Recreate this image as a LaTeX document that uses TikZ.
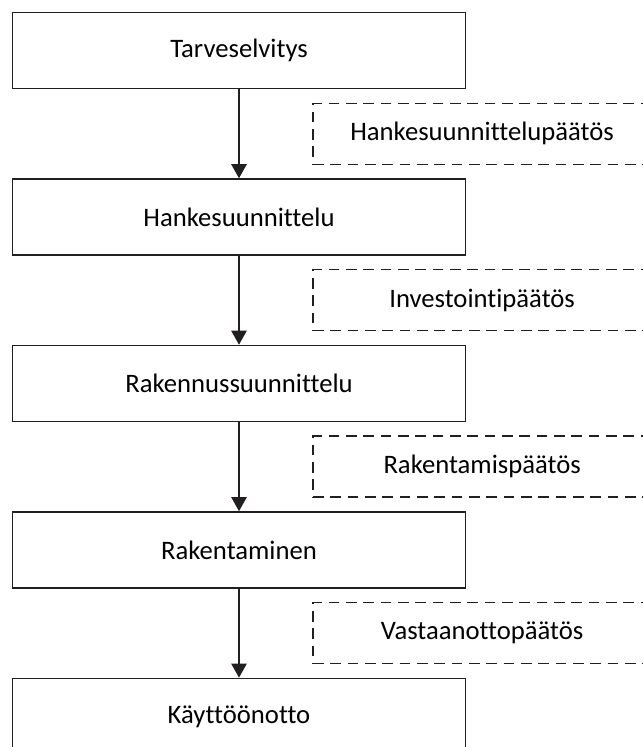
\documentclass[tikz,border=0pt]{standalone}
\usepackage{fontspec}
\setmainfont[Ligatures={NoCommon}]{Carlito}
\usepackage{tikz}
\usetikzlibrary{positioning,arrows.meta,calc}
\definecolor{pline}{RGB}{35,31,32}
\tikzset{
  stagebox/.style={draw=pline, line width=1.1pt, fill=white,
                   minimum width=340pt, minimum height=57pt, inner sep=0pt,
                   font=\fontsize{20}{24}\selectfont, text=black},
  decision/.style={draw=pline, line width=1.1pt, dash pattern=on 8pt off 5pt,
                   minimum width=253.5pt, minimum height=45.75pt, inner sep=0pt,
                   font=\fontsize{20}{24}\selectfont, text=black},
  flow/.style={-{Triangle[length=10.5pt,width=11.5pt]}, draw=pline, line width=1.1pt},
}
\begin{document}
\begin{tikzpicture}[x=0.75pt, y=-0.75pt, node distance=66.75pt]
\useasboundingbox (0,0) rectangle (643,747);
\clip (0,0) rectangle (643,747);

% project phases, top to bottom
\node[stagebox] (tarve) at (239,50.5) {Tarveselvitys};
\node[stagebox, below=of tarve] (hanke) {Hankesuunnittelu};
\node[stagebox, below=of hanke] (rasu) {Rakennussuunnittelu};
\node[stagebox, below=of rasu] (raken) {Rakentaminen};
\node[stagebox, below=of raken] (kaytto) {Käyttöönotto};

% phase flow
\foreach \a/\b in {tarve/hanke, hanke/rasu, rasu/raken, raken/kaytto}
  \draw[flow] (\a) -- (\b);

% decisions between phases, dashed, running off the right edge
\foreach \a/\b/\t in {tarve/hanke/Hankesuunnittelupäätös,
                      hanke/rasu/Investointipäätös,
                      rasu/raken/Rakentamispäätös,
                      raken/kaytto/Vastaanottopäätös}
  \node[decision, anchor=west] (pd-\a)
    at ($(\a.south east)!0.5!(\b.north east)+(-154,0)$) {\t};
\end{tikzpicture}
\end{document}
